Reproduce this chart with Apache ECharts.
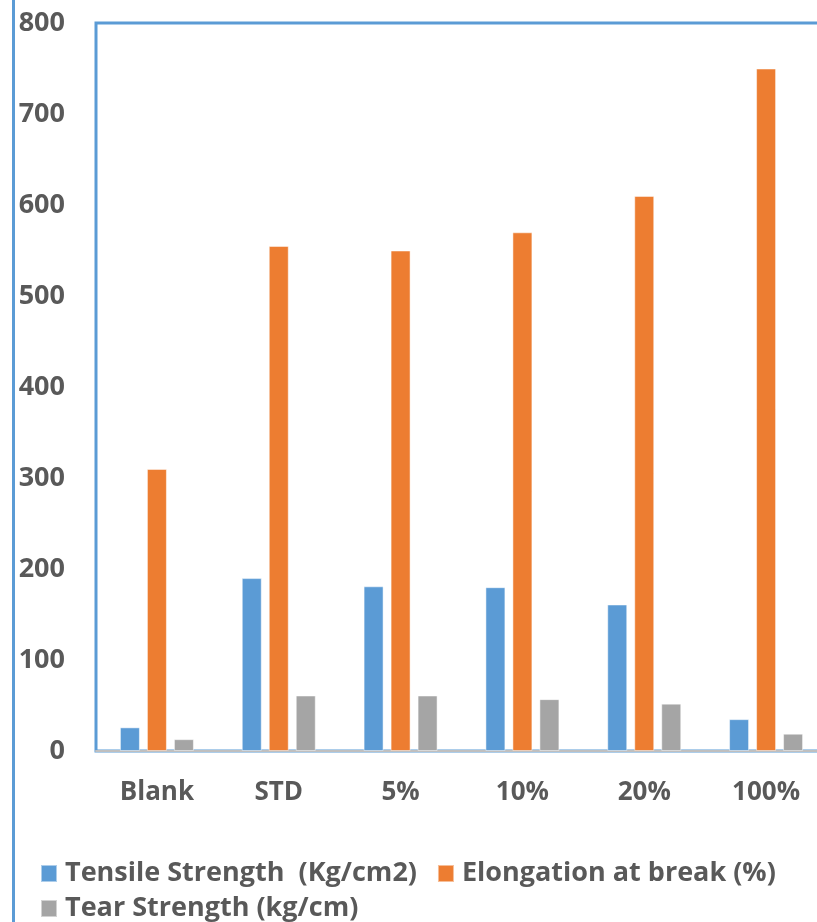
<!DOCTYPE html>
<html><head><meta charset="utf-8">
<script src="https://cdn.jsdelivr.net/npm/echarts@6/dist/echarts.min.js"></script>
<style>html,body{margin:0;padding:0;background:#fff;overflow:hidden}#c{width:840px;height:922px}</style>
</head><body><div id="c"></div>
<script>
const categories = ['Blank', 'STD', '5%', '10%', '20%', '100%'];
const tensile = [26, 190, 181, 180, 161, 35];
const elongation = [310, 555, 550, 570, 610, 750];
const tear = [13, 61, 61, 57, 52, 19];
const seriesNames = ['Tensile Strength  (Kg/cm2)', 'Elongation at break (%)', 'Tear Strength (kg/cm)'];
const yTicks = [0, 100, 200, 300, 400, 500, 600, 700, 800];

const chart = echarts.init(document.getElementById('c'), null, {renderer: 'canvas'});
const font = '"Open Sans", Lato, sans-serif';
const mk = (name, data, color) => ({
  name, type: 'bar', data, barWidth: 20, barGap: '35%',
  itemStyle: {color, borderColor: 'rgba(255,255,255,0.5)', borderWidth: 1},
  animation: false
});
const legendText = {color: '#595959', fontFamily: font, fontWeight: 'bold', fontSize: 27, padding: [0, 0, 0, 3]};
chart.setOption({
  animation: false,
  grid: {left: 96, top: 23, width: 731, height: 728, show: true, borderColor: '#5B9BD5', borderWidth: 3, backgroundColor: 'transparent'},
  xAxis: {
    type: 'category', data: categories,
    axisLine: {show: true, lineStyle: {color: '#BFBFBF', width: 2}},
    axisTick: {show: false},
    axisLabel: {color: '#595959', fontFamily: font, fontWeight: 'bold', fontSize: 26, margin: 29}
  },
  yAxis: {
    type: 'value', min: yTicks[0], max: yTicks[yTicks.length - 1], interval: 100,
    splitLine: {show: false},
    axisLine: {show: false}, axisTick: {show: false},
    axisLabel: {color: '#595959', fontFamily: font, fontWeight: 'bold', fontSize: 27, margin: 31}
  },
  legend: [
    {data: [seriesNames[0], seriesNames[1]], left: 35, top: 855, itemWidth: 16, itemHeight: 17, itemGap: 20,
     icon: 'rect', textStyle: legendText},
    {data: [seriesNames[2]], left: 35, top: 890, itemWidth: 16, itemHeight: 17, itemGap: 20,
     icon: 'rect', textStyle: legendText}
  ],
  graphic: [{type: 'rect', shape: {x: 12, y: 0, width: 3, height: 922}, style: {fill: '#5B9BD5'}, silent: true}],
  series: [mk(seriesNames[0], tensile, '#5B9BD5'), mk(seriesNames[1], elongation, '#ED7D31'), mk(seriesNames[2], tear, '#A5A5A5')]
});
</script></body></html>
